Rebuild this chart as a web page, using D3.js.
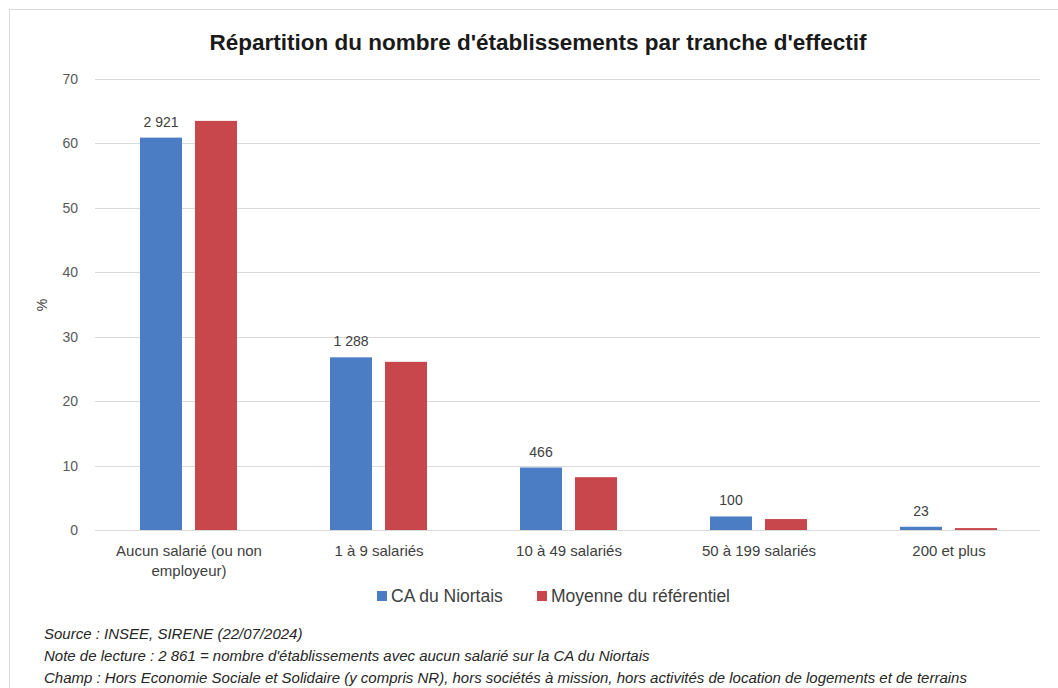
<!DOCTYPE html>
<html>
<head>
<meta charset="utf-8">
<script src="https://cdn.jsdelivr.net/npm/d3@7"></script>
<style>
  body { margin: 0; background: #fff; }
  svg { display: block; font-family: "Liberation Sans", Arial, sans-serif; }
</style>
</head>
<body>
<svg id="chart" width="1058" height="688"></svg>
<script>
// Établissements par tranche d'effectif (en %)
const categories = [["Aucun salarié (ou non", "employeur)"], ["1 à 9 salariés"], ["10 à 49 salariés"], ["50 à 199 salariés"], ["200 et plus"]];
const seriesNames = ["CA du Niortais", "Moyenne du référentiel"];
const niortais = [60.9, 26.8, 9.7, 2.1, 0.5];
const referentiel = [63.5, 26.1, 8.2, 1.7, 0.3];
const counts = ["2 921", "1 288", "466", "100", "23"];
const yTicks = [0, 10, 20, 30, 40, 50, 60, 70];
const notes = [
  "Source : INSEE, SIRENE (22/07/2024)",
  "Note de lecture : 2 861 = nombre d'établissements avec aucun salarié sur la CA du Niortais",
  "Champ : Hors Economie Sociale et Solidaire (y compris NR), hors sociétés à mission, hors activités de location de logements et de terrains"
];
const colors = ["#4a7dc3", "#c8474d"];

const svg = d3.select("#chart");

// outer frame
svg.append("rect").attr("x", 9.5).attr("y", 9.5).attr("width", 1060).attr("height", 690)
  .attr("fill", "#fff").attr("stroke", "#d9d9d9");

const x = d3.scaleBand().domain(d3.range(categories.length)).range([94, 1044]);
const y = d3.scaleLinear().domain([0, 70]).range([530, 79]);

// gridlines
svg.append("g").selectAll("line").data(yTicks).join("line")
  .attr("x1", 95).attr("x2", 1040)
  .attr("y1", d => Math.round(y(d)) + 0.5).attr("y2", d => Math.round(y(d)) + 0.5)
  .attr("stroke", "#d9d9d9").attr("stroke-width", 1);

// y tick labels
svg.append("g").selectAll("text").data(yTicks).join("text")
  .attr("x", 78).attr("y", d => y(d) + 5)
  .attr("text-anchor", "end").attr("font-size", 14).attr("fill", "#595959")
  .text(d => d);

// y axis title
svg.append("text").attr("transform", "translate(47,305) rotate(-90)")
  .attr("text-anchor", "middle").attr("font-size", 14).attr("fill", "#404040").text("%");

const barW = 42;
const series = [niortais, referentiel];
const offsets = [-49, 6];
series.forEach((vals, s) => {
  svg.append("g").selectAll("rect").data(vals).join("rect")
    .attr("x", (d, i) => x(i) + x.bandwidth() / 2 + offsets[s])
    .attr("y", d => y(d))
    .attr("width", barW)
    .attr("height", d => y(0) - y(d))
    .attr("fill", colors[s]);
});

// count labels above the Niortais bars
svg.append("g").selectAll("text").data(niortais).join("text")
  .attr("x", (d, i) => x(i) + x.bandwidth() / 2 - 49 + barW / 2)
  .attr("y", d => y(d) - 11)
  .attr("text-anchor", "middle").attr("font-size", 14).attr("fill", "#404040")
  .text((d, i) => counts[i]);

// category labels
const catG = svg.append("g").selectAll("text").data(categories).join("text")
  .attr("x", (d, i) => x(i) + x.bandwidth() / 2)
  .attr("y", 556)
  .attr("text-anchor", "middle").attr("font-size", 15).attr("fill", "#404040");
catG.selectAll("tspan").data(d => d).join("tspan")
  .attr("x", function () { return d3.select(this.parentNode).attr("x"); })
  .attr("dy", (d, i) => i === 0 ? 0 : 20)
  .text(d => d);

// title
svg.append("text").attr("x", 538).attr("y", 50).attr("text-anchor", "middle")
  .attr("font-size", 22.5).attr("font-weight", "bold").attr("fill", "#1a1a1a")
  .text("Répartition du nombre d'établissements par tranche d'effectif");

// legend
const legendX = [377, 537];
const lg = svg.append("g").selectAll("g").data(seriesNames).join("g")
  .attr("transform", (d, i) => `translate(${legendX[i]},596)`);
lg.append("rect").attr("x", 0).attr("y", -5).attr("width", 10).attr("height", 10)
  .attr("fill", (d, i) => colors[i]);
lg.append("text").attr("x", 14).attr("y", 6).attr("font-size", 17.5).attr("fill", "#404040")
  .text(d => d);

// notes
svg.append("g").selectAll("text").data(notes).join("text")
  .attr("x", 44).attr("y", (d, i) => 639 + i * 22)
  .attr("font-size", 15).attr("font-style", "italic").attr("fill", "#262626")
  .text(d => d);
</script>
</body>
</html>
